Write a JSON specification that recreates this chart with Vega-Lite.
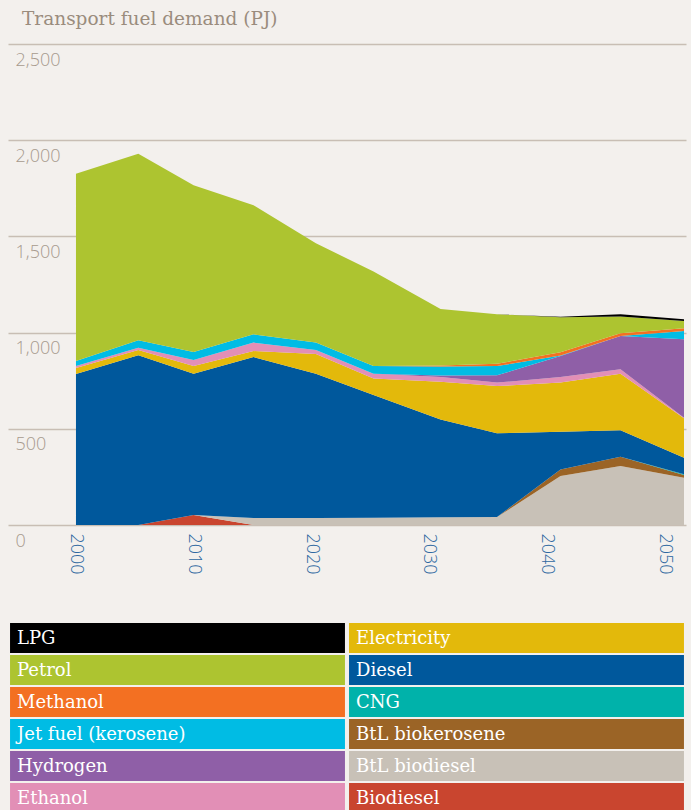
{
  "$schema": "https://vega.github.io/schema/vega-lite/v6.json",
  "background": "#f3f0ed",
  "padding": {"left": 8, "top": 9, "right": 5, "bottom": 0},
  "config": {"view": {"stroke": null}},
  "spacing": 48,
  "datasets": {
    "fuel": [
      {"year": 2000, "Biodiesel": 0, "BtL biodiesel": 0, "BtL biokerosene": 0, "CNG": 0, "Diesel": 785, "Electricity": 31, "Ethanol": 10, "Hydrogen": 0, "Jet fuel (kerosene)": 26, "Methanol": 0, "Petrol": 974, "LPG": 0},
      {"year": 2005.3, "Biodiesel": 0, "BtL biodiesel": 0, "BtL biokerosene": 0, "CNG": 0, "Diesel": 882, "Electricity": 27, "Ethanol": 12, "Hydrogen": 0, "Jet fuel (kerosene)": 39, "Methanol": 0, "Petrol": 970, "LPG": 0},
      {"year": 2010, "Biodiesel": 52, "BtL biodiesel": 0, "BtL biokerosene": 0, "CNG": 0, "Diesel": 734, "Electricity": 40, "Ethanol": 32, "Hydrogen": 0, "Jet fuel (kerosene)": 41, "Methanol": 0, "Petrol": 867, "LPG": 0},
      {"year": 2015.1, "Biodiesel": 0, "BtL biodiesel": 36, "BtL biokerosene": 0, "CNG": 0, "Diesel": 837, "Electricity": 31, "Ethanol": 44, "Hydrogen": 0, "Jet fuel (kerosene)": 43, "Methanol": 0, "Petrol": 671, "LPG": 0},
      {"year": 2020.4, "Biodiesel": 0, "BtL biodiesel": 36, "BtL biokerosene": 0, "CNG": 0, "Diesel": 750, "Electricity": 103, "Ethanol": 21, "Hydrogen": 0, "Jet fuel (kerosene)": 39, "Methanol": 0, "Petrol": 515, "LPG": 0},
      {"year": 2025.3, "Biodiesel": 0, "BtL biodiesel": 38, "BtL biokerosene": 0, "CNG": 0, "Diesel": 638, "Electricity": 86, "Ethanol": 24, "Hydrogen": 0, "Jet fuel (kerosene)": 40, "Methanol": 0, "Petrol": 492, "LPG": 0},
      {"year": 2031, "Biodiesel": 0, "BtL biodiesel": 40, "BtL biokerosene": 0, "CNG": 0, "Diesel": 508, "Electricity": 197, "Ethanol": 24, "Hydrogen": 8, "Jet fuel (kerosene)": 47, "Methanol": 5, "Petrol": 294, "LPG": 0},
      {"year": 2035.8, "Biodiesel": 0, "BtL biodiesel": 41, "BtL biokerosene": 0, "CNG": 0, "Diesel": 436, "Electricity": 245, "Ethanol": 18, "Hydrogen": 38, "Jet fuel (kerosene)": 48, "Methanol": 12, "Petrol": 257, "LPG": 0},
      {"year": 2041.2, "Biodiesel": 0, "BtL biodiesel": 255, "BtL biokerosene": 34, "CNG": 0, "Diesel": 196, "Electricity": 255, "Ethanol": 29, "Hydrogen": 109, "Jet fuel (kerosene)": 3, "Methanol": 17, "Petrol": 182, "LPG": 3},
      {"year": 2046.3, "Biodiesel": 0, "BtL biodiesel": 307, "BtL biokerosene": 48, "CNG": 0, "Diesel": 137, "Electricity": 294, "Ethanol": 23, "Hydrogen": 173, "Jet fuel (kerosene)": 0, "Methanol": 14, "Petrol": 88, "LPG": 11},
      {"year": 2051.7, "Biodiesel": 0, "BtL biodiesel": 246, "BtL biokerosene": 14, "CNG": 4, "Diesel": 86, "Electricity": 205, "Ethanol": 2, "Hydrogen": 408, "Jet fuel (kerosene)": 43, "Methanol": 14, "Petrol": 38, "LPG": 9}
    ],
    "legend": [
      {"fuel": "LPG", "col": 1, "row": 1},
      {"fuel": "Petrol", "col": 1, "row": 2},
      {"fuel": "Methanol", "col": 1, "row": 3},
      {"fuel": "Jet fuel (kerosene)", "col": 1, "row": 4},
      {"fuel": "Hydrogen", "col": 1, "row": 5},
      {"fuel": "Ethanol", "col": 1, "row": 6},
      {"fuel": "Electricity", "col": 2, "row": 1},
      {"fuel": "Diesel", "col": 2, "row": 2},
      {"fuel": "CNG", "col": 2, "row": 3},
      {"fuel": "BtL biokerosene", "col": 2, "row": 4},
      {"fuel": "BtL biodiesel", "col": 2, "row": 5},
      {"fuel": "Biodiesel", "col": 2, "row": 6}
    ]
  },
  "vconcat": [
    {
      "width": 678,
      "height": 481,
      "title": {"text": "Transport fuel demand (PJ)", "anchor": "start", "frame": "group", "dx": 14, "offset": 16, "font": "DejaVu Serif", "fontSize": 18.5, "fontWeight": "normal", "color": "#9a8c7d"},
      "data": {"name": "fuel"},
      "transform": [
        {"fold": ["Biodiesel", "BtL biodiesel", "BtL biokerosene", "CNG", "Diesel", "Electricity", "Ethanol", "Hydrogen", "Jet fuel (kerosene)", "Methanol", "Petrol", "LPG"], "as": ["fuel", "pj"]},
        {"lookup": "fuel", "from": {"data": {"name": "legend"}, "key": "fuel", "fields": ["col", "row"]}},
        {"stack": "pj", "groupby": ["year"], "sort": [{"field": "col", "order": "descending"}, {"field": "row", "order": "descending"}], "as": ["pj0", "pj1"]}
      ],
      "mark": {"type": "area", "interpolate": "linear"},
      "encoding": {
        "x": {
          "field": "year", "type": "quantitative",
          "scale": {"domain": [1994.22, 2051.87], "nice": false, "zero": false},
          "axis": {"values": [2000, 2010, 2020, 2030, 2040, 2050], "format": "d", "title": null, "domain": false, "ticks": false, "grid": false, "labelAngle": 90, "labelAlign": "left", "labelBaseline": "middle", "labelPadding": 8, "labelFontSize": 18, "labelColor": "#2f68a1", "labelFont": "Open Sans", "labelFontWeight": 300, "labelFlush": false, "labelOverlap": false}
        },
        "y": {
          "field": "pj0", "type": "quantitative",
          "scale": {"domain": [0, 2500], "nice": false},
          "axis": {"values": [0, 500, 1000, 1500, 2000, 2500], "format": ",d", "title": null, "domain": false, "ticks": false, "grid": true, "gridColor": "#c8beb4", "gridWidth": 1.5, "labelAlign": "left", "labelBaseline": "top", "labelPadding": -7, "labelOffset": 7, "labelFontSize": 18, "labelColor": "#a79a8d", "labelFont": "Open Sans", "labelFontWeight": 300, "labelOverlap": false}
        },
        "y2": {"field": "pj1"},
        "color": {
          "field": "fuel", "type": "nominal",
          "scale": {
            "domain": ["Biodiesel", "BtL biodiesel", "BtL biokerosene", "CNG", "Diesel", "Electricity", "Ethanol", "Hydrogen", "Jet fuel (kerosene)", "Methanol", "Petrol", "LPG"],
            "range": ["#c9452f", "#c8c1b7", "#9b6426", "#00b2aa", "#00589c", "#e3b90b", "#e28fb6", "#8f5fa7", "#00bce4", "#f37022", "#adc430", "#000000"]
          },
          "legend": null
        }
      }
    },
    {
      "width": 678,
      "height": 190,
      "data": {"name": "legend"},
      "layer": [
        {
          "mark": {"type": "rect"},
          "encoding": {
            "x": {"field": "col", "type": "ordinal", "scale": {"paddingInner": 0.012, "paddingOuter": 0.006}, "axis": null},
            "y": {"field": "row", "type": "ordinal", "scale": {"paddingInner": 0.0625, "paddingOuter": 0}, "axis": null},
            "color": {"field": "fuel", "type": "nominal", "legend": null}
          }
        },
        {
          "mark": {"type": "text", "align": "left", "baseline": "middle", "dx": 7, "dy": 1, "color": "white", "font": "DejaVu Serif", "fontSize": 18},
          "encoding": {
            "x": {"field": "col", "type": "ordinal", "bandPosition": 0},
            "y": {"field": "row", "type": "ordinal", "bandPosition": 0.5},
            "text": {"field": "fuel"}
          }
        }
      ]
    }
  ]
}
